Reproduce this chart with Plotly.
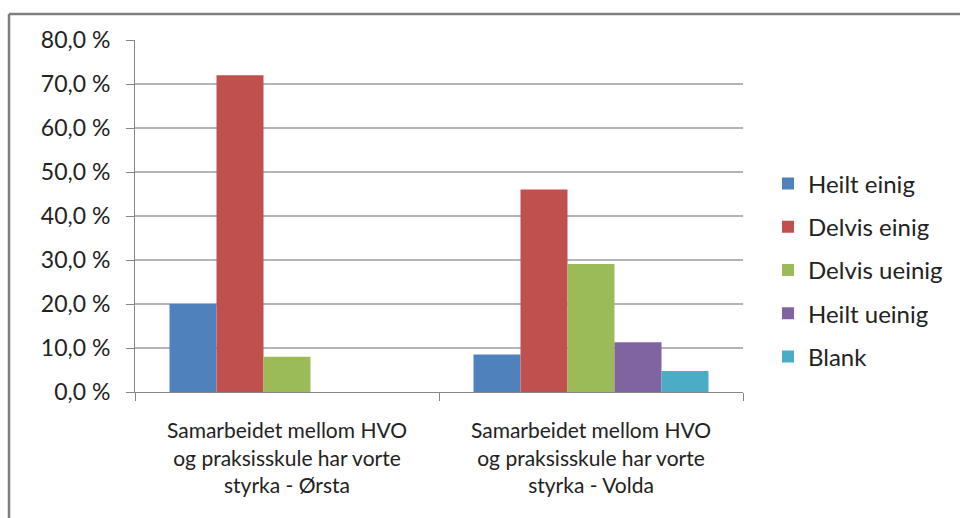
import plotly.graph_objects as go

categories = [
    "Samarbeidet mellom HVO<br>og praksisskule har vorte<br>styrka - Ørsta",
    "Samarbeidet mellom HVO<br>og praksisskule har vorte<br>styrka - Volda",
]
series_names = ["Heilt einig", "Delvis einig", "Delvis ueinig", "Heilt ueinig", "Blank"]
heilt_einig = [20.0, 8.5]
delvis_einig = [72.0, 46.0]
delvis_ueinig = [8.0, 29.1]
heilt_ueinig = [0.0, 11.3]
blank = [0.0, 4.8]
series_values = [heilt_einig, delvis_einig, delvis_ueinig, heilt_ueinig, blank]
colors = ["#4F81BD", "#C0504D", "#9BBB59", "#8064A2", "#4BACC6"]
tick_vals = [0, 10, 20, 30, 40, 50, 60, 70, 80]
tick_text = ["0,0 %", "10,0 %", "20,0 %", "30,0 %", "40,0 %", "50,0 %", "60,0 %", "70,0 %", "80,0 %"]

W, H = 960, 518
L, R, T, B = 135, 217, 40, 126
pw, ph = W - L - R, H - T - B

def px_x(x):
    return (x - L) / pw

def px_y(y):
    return (H - B - y) / ph

FONT = "Lato"
TXT = "#222222"
fig = go.Figure()
for name, vals, c in zip(series_names, series_values, colors):
    fig.add_trace(go.Bar(name=name, x=categories, y=vals, marker_color=c,
                         marker_line_width=0, legendgroup=name))

fig.update_layout(
    width=W, height=H,
    margin=dict(l=L, r=R, t=T, b=B, pad=0, autoexpand=False),
    paper_bgcolor="white", plot_bgcolor="white",
    barmode="group", bargap=0.227, bargroupgap=0,
    font=dict(family=FONT, size=20, color=TXT),
    legend=dict(x=px_x(768), xanchor="left", y=px_y(270), yanchor="middle",
                font=dict(size=24, family=FONT, color=TXT),
                tracegroupgap=9, itemwidth=30, bgcolor="rgba(0,0,0,0)"),
    showlegend=True,
)
fig.update_yaxes(range=[0, 80], tickvals=tick_vals, ticktext=tick_text,
                 showgrid=True, gridcolor="#b3b3b3", gridwidth=1.5,
                 showline=True, linecolor="#868686", linewidth=1,
                 ticks="outside", ticklen=8, tickcolor="#868686",
                 ticklabelstandoff=11,
                 tickfont=dict(size=23, family=FONT, color=TXT),
                 zeroline=False)
fig.update_xaxes(showline=True, linecolor="#868686", linewidth=1,
                 ticks="outside", ticklen=8, tickcolor="#868686", tickson="boundaries",
                 ticklabelstandoff=20,
                 tickfont=dict(size=21, family=FONT, color=TXT))

# outer chart border (left and top)
fig.add_shape(type="line", xref="paper", yref="paper",
              x0=px_x(9), x1=px_x(962), y0=px_y(14), y1=px_y(14),
              line=dict(color="#7f7f7f", width=2.5))
fig.add_shape(type="line", xref="paper", yref="paper",
              x0=px_x(9), x1=px_x(9), y0=px_y(14), y1=px_y(520),
              line=dict(color="#7f7f7f", width=2.5))

fig.write_html("out.html", config={"displayModeBar": False},
               post_script="document.body.style.margin='0';document.body.style.overflow='hidden';")
